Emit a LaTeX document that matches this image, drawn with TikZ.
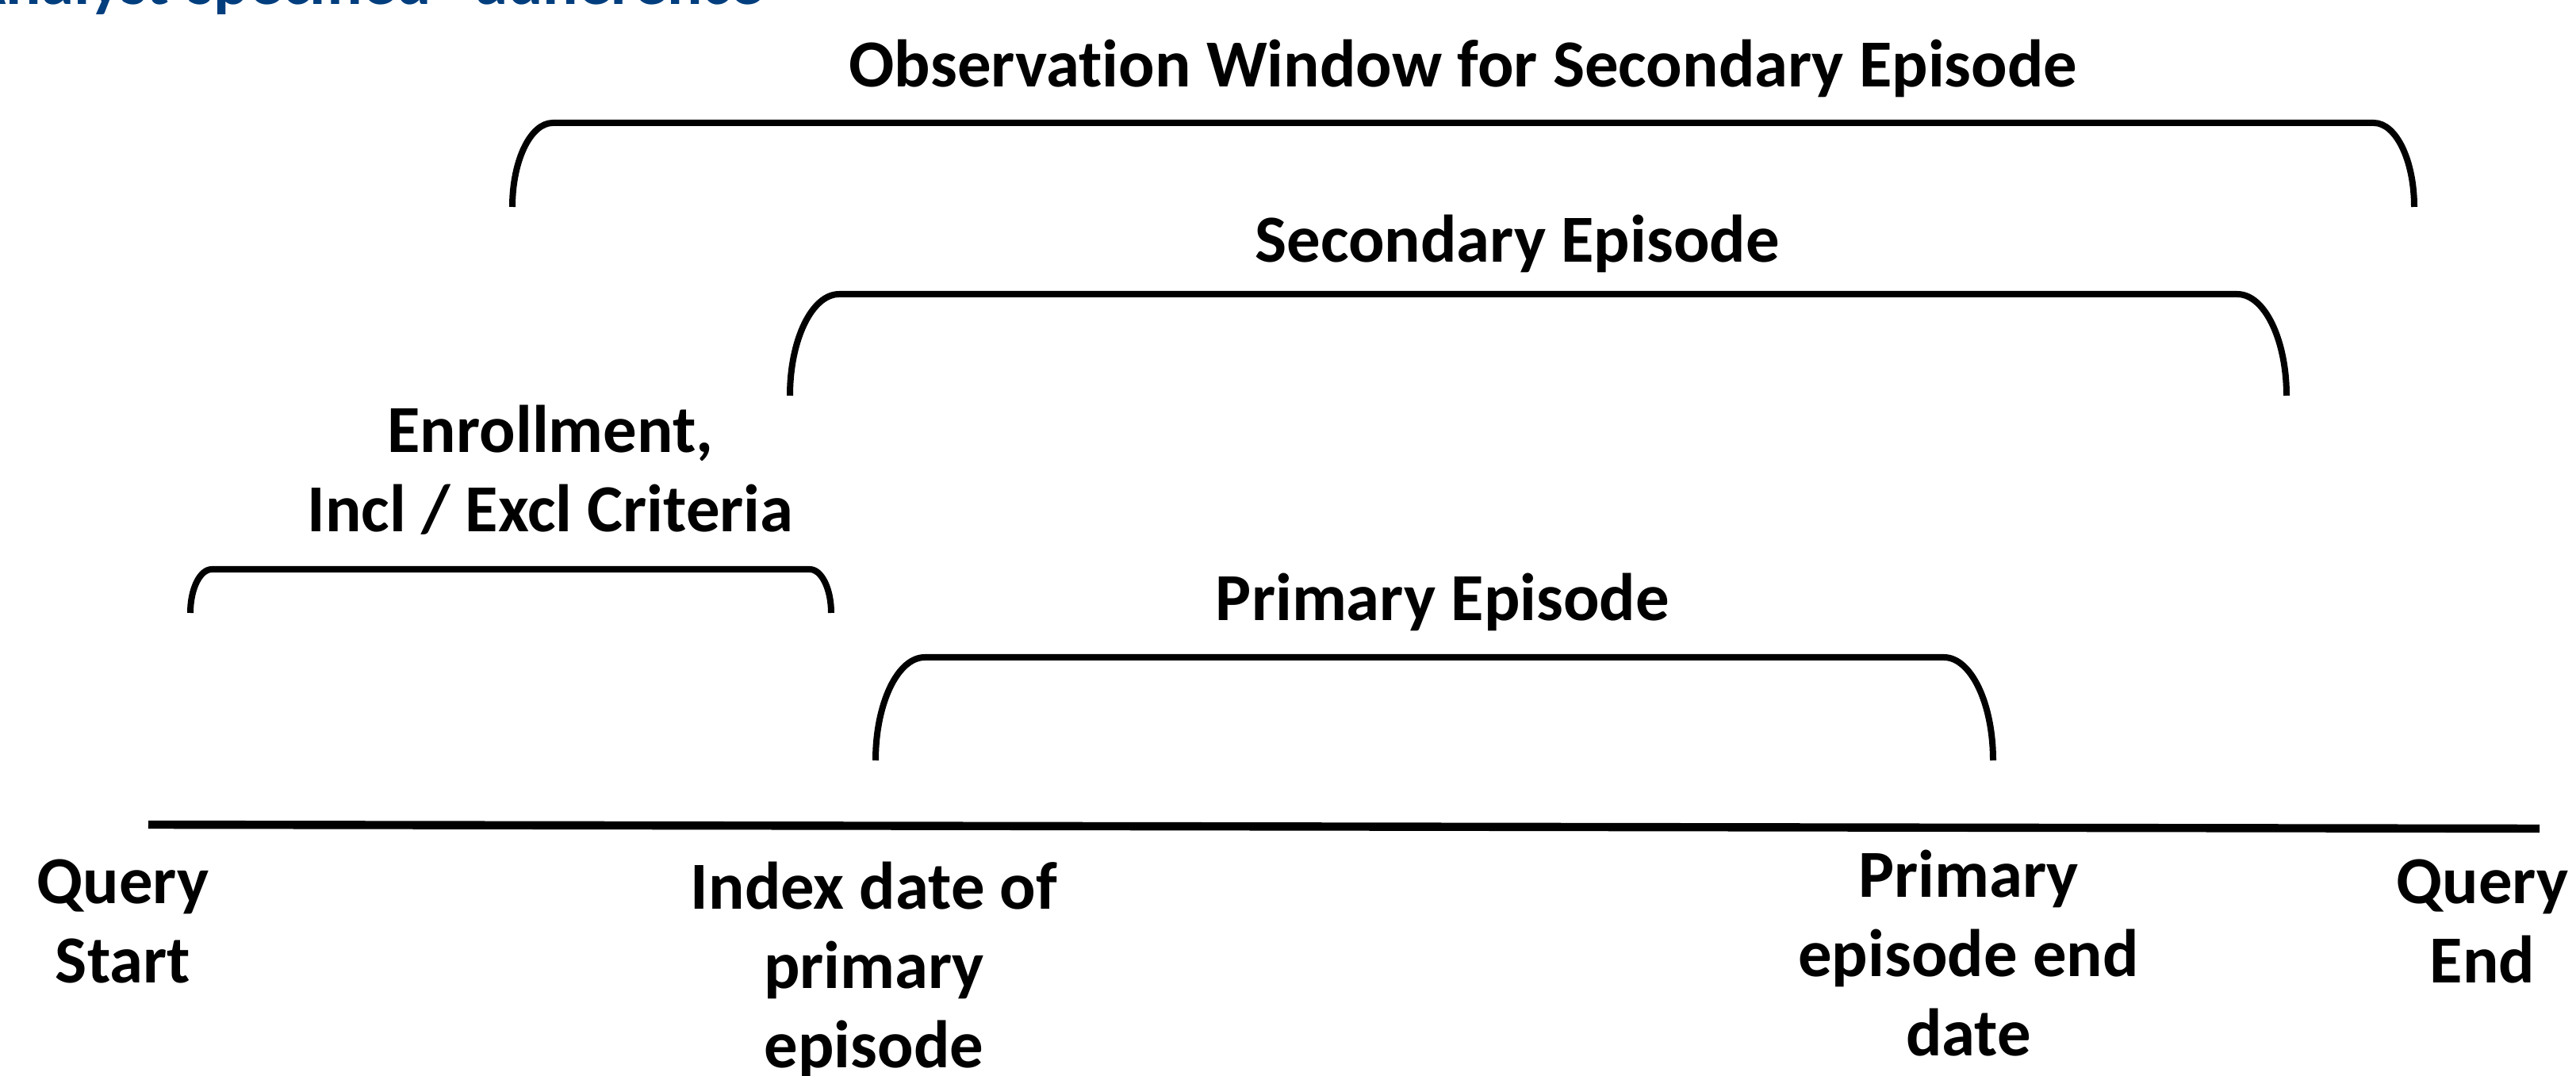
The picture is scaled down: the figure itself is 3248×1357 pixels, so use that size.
\documentclass[tikz,border=0pt]{standalone}
\usepackage{fontspec}
\setmainfont{Carlito}[Ligatures=NoCommon]
\definecolor{titleblue}{RGB}{0,62,126}
\newcommand{\drawbracket}[5]{%
  \draw[brk] (#1,#4) .. controls (#1,{#4-0.552*(#4-#3)}) and ({#1+0.448*#5},#3) .. ({#1+#5},#3)
    -- ({#2-#5},#3) .. controls ({#2-0.448*#5},#3) and (#2,{#4-0.552*(#4-#3)}) .. (#2,#4);}
\begin{document}
\begin{tikzpicture}[x=0.25pt,y=-0.25pt,
  lbl/.style={font=\fontsize{21.2}{25}\selectfont\bfseries, inner sep=0pt, align=center},
  brk/.style={line width=2pt},
  axisline/.style={line width=2.6pt}]
\useasboundingbox (0,0) rectangle (3248,1357);
\clip (0,0) rectangle (3248,1357);

% cut-off heading
\node[font=\fontsize{20.75}{25}\selectfont\bfseries, text=titleblue, anchor=base east, inner sep=0pt] (ttl) at (963,6) {“Analyst-specified” adherence};

% brackets
\drawbracket{646}{3044}{155}{261}{51}
\drawbracket{996}{2883}{371}{499}{62}
\drawbracket{240}{1048}{718}{773}{27}
\drawbracket{1104}{2513}{829}{959}{62}

% timeline
\coordinate (ts) at (187,1040);
\coordinate (te) at (3202,1045);
\draw[axisline] (ts) -- (te);

% labels
\node[lbl, anchor=base] (obs) at (1845,110) {Observation Window for Secondary Episode};
\node[lbl, anchor=base] (sec) at (1913,331) {Secondary Episode};
\node[lbl, anchor=north] (enr) at (694,500) {\strut Enrollment,\\Incl / Excl Criteria};
\node[lbl, anchor=base] (pri) at (1819,783) {Primary Episode};
\node[lbl, anchor=north] (qs) at (155,1069) {\strut Query\\Start};
\node[lbl, anchor=north] (idx) at (1102,1076) {\strut Index date of\\primary\\episode};
\node[lbl, anchor=north] (ped) at (2482,1061) {\strut Primary\\episode end\\date};
\node[lbl, anchor=north] (qe) at (3130,1069) {\strut Query\\End};
\end{tikzpicture}
\end{document}
